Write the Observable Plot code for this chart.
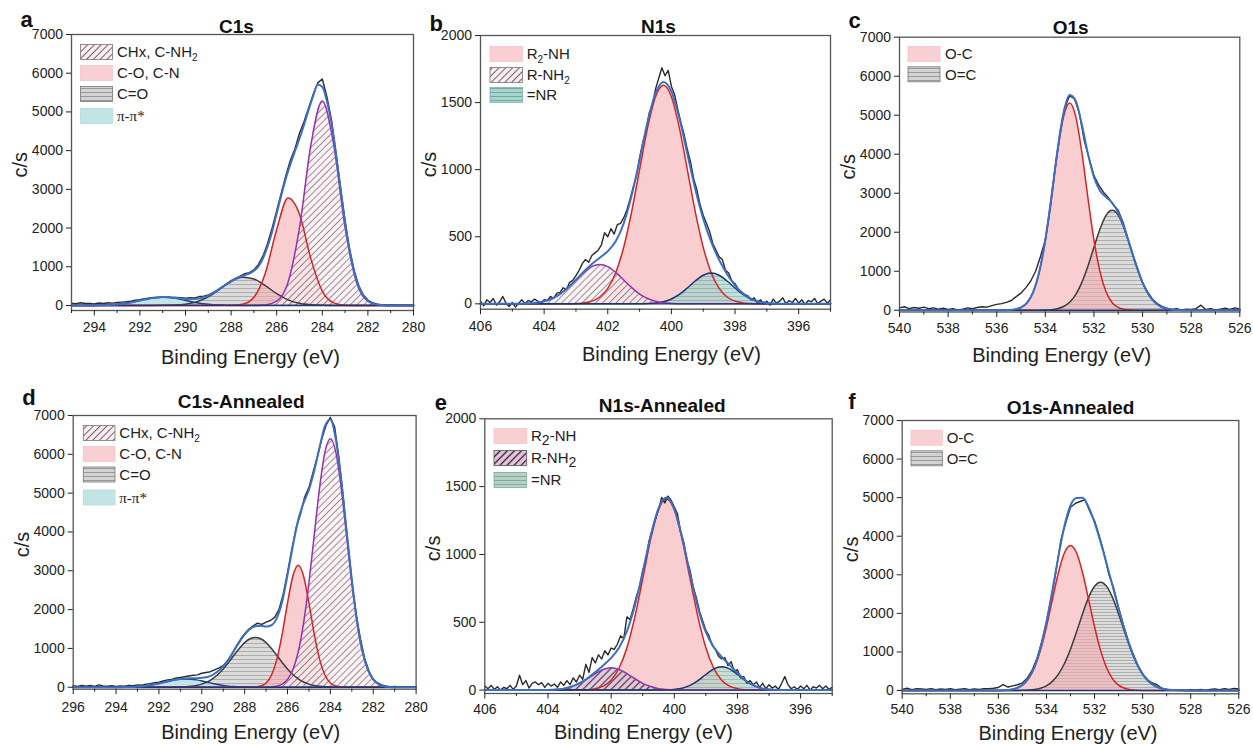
<!DOCTYPE html>
<html><head><meta charset="utf-8">
<script src="https://cdn.jsdelivr.net/npm/d3@7"></script>
<script src="https://cdn.jsdelivr.net/npm/@observablehq/plot@0.6"></script>
<style>
html,body{margin:0;padding:0;background:#fff;}
#wrap{position:relative;width:1253px;height:745px;overflow:hidden;font-family:"Liberation Sans",Arial,sans-serif;}
#wrap svg{position:absolute;overflow:visible;background:transparent !important;max-width:none !important;}
</style></head><body>
<svg width="0" height="0" style="position:absolute;left:0;top:0"><defs>
<pattern id="diagL" width="4.8" height="4.8" patternUnits="userSpaceOnUse" patternTransform="rotate(45)">
<rect width="4.8" height="4.8" fill="#fcecf1"/><line x1="2.4" y1="0" x2="2.4" y2="4.8" stroke="#5a5a5a" stroke-width="0.9"/></pattern>
<pattern id="diagD" width="5" height="5" patternUnits="userSpaceOnUse" patternTransform="rotate(45)">
<rect width="5" height="5" fill="#e8c5e2"/><line x1="2.5" y1="0" x2="2.5" y2="5" stroke="#222" stroke-width="1.3"/></pattern>
<pattern id="horizG" width="6" height="4" patternUnits="userSpaceOnUse">
<rect width="6" height="4" fill="#d3d3d3"/><line x1="0" y1="0.5" x2="6" y2="0.5" stroke="#8a8a8a" stroke-width="0.8"/></pattern>
<pattern id="horizGf" width="6" height="3" patternUnits="userSpaceOnUse">
<rect width="6" height="3" fill="#d3d3d3"/><line x1="0" y1="0.5" x2="6" y2="0.5" stroke="#8a8a8a" stroke-width="0.8"/></pattern>
<pattern id="horizT" width="6" height="4" patternUnits="userSpaceOnUse">
<rect width="6" height="4" fill="#a6d5cf"/><line x1="0" y1="0.5" x2="6" y2="0.5" stroke="#6c9c96" stroke-width="0.8"/></pattern>
<pattern id="horizS" width="6" height="4" patternUnits="userSpaceOnUse">
<rect width="6" height="4" fill="#b5d2c6"/><line x1="0" y1="0.5" x2="6" y2="0.5" stroke="#7c9c90" stroke-width="0.8"/></pattern>
</defs></svg>
<div id="wrap"></div>
<script>
// ---------- grids (energy sampling, eV) ----------
const grid = (start, step, n) => Array.from({length: n}, (_, i) => Math.round((start - i * step) * 100) / 100);

// ---------- Panel a: C1s ----------
const aTitle = "C1s";
const aLegend = ["CHx, C-NH_2", "C-O, C-N", "C=O", "π-π*"];
const aXMajor = [294, 292, 290, 288, 286, 284, 282, 280];
const aXMinor = [295, 293, 291, 289, 287, 285, 283, 281];
const aYTicks = [0, 1000, 2000, 3000, 4000, 5000, 6000, 7000];
const aFineE = grid(295, 0.2, 76);
const aCompE = grid(295, 0.5, 31);
const aRaw = [60,45,70,50,55,40,65,50,70,60, 75,85,95,110,135,150,175,190,210,205, 225,220,210,205,200,190,200,195,230,240, 270,330,400,480,560,640,700,760,820,850, 920,1060,1280,1600,2000,2450,2900,3350,3750,4050, 4450,4750,5100,5450,5750,5850,5400,4800,3950,3050, 2180,1450,900,510,270,140,70,35,20,15, 10,5,0,10,0,5];
const aEnv = [0,0,0,1,1,2,4,7,11,18, 27,40,57,77,101,126,152,176,196,209, 217,216,208,195,180,167,160,165,181,211, 255,318,391,469,548,624,687,738,782,826, 896,1011,1220,1525,1907,2379,2842,3279,3649,3985, 4314,4668,5056,5415,5710,5649,5280,4723,3905,2995, 2131,1413,866,491,256,124,56,23,9,3, 1,0,0,0,0,0];
const aCHx = [0,0,0,0,0,0,0,0,0,0, 0,0,0,0,0,0,0,13,111,602, 2010,4150,5280,4150,2010,602,111,13,0,0, 0];
const aCO  = [0,0,0,0,0,0,0,0,0,0, 0,0,0,0,3,32,213,834,1963,2777, 2358,1204,370,67,8,0,0,0,0,0, 0];
const aCdO = [0,0,0,0,0,0,0,0,3,9, 33,97,226,419,619,728,683,511,305,145, 55,17,4,1,0,0,0,0,0,0, 0];
const aPi  = [0,0,2,9,29,70,130,190,215,190, 130,70,29,9,2,0,0,0,0,0, 0,0,0,0,0,0,0,0,0,0, 0];

// ---------- Panel b: N1s ----------
const bTitle = "N1s";
const bLegend = ["R_2-NH", "R-NH_2", "=NR"];
const bXMajor = [406, 404, 402, 400, 398, 396];
const bXMinor = [405, 403, 401, 399, 397, 395];
const bYTicks = [0, 500, 1000, 1500, 2000];
const bFineE = grid(406, 0.1, 111);
const bCompE = grid(406, 0.25, 45);
const bRaw = [20,-15,30,10,40,-10,15,55,5,-20, 10,-25,5,30,0,25,15,35,20,5, 30,25,55,40,80,85,120,105,160,175, 210,250,300,330,310,360,380,400,440,530, 500,560,520,590,600,640,700,780,870,950, 1090,1200,1290,1420,1480,1600,1680,1760,1700,1740, 1620,1560,1450,1350,1260,1150,1060,930,850,740, 660,600,540,450,400,350,330,250,230,170, 150,110,90,70,60,30,45,10,30,0, 20,-10,35,5,20,45,0,25,10,40, 5,30,-5,25,15,40,0,20,35,5,30];
const bEnv = [0,0,0,0,0,1,3,8,19,40, 73,121,180,241,297,344,392,466,599,807, 1074,1354,1569,1654,1583,1383,1119,856,634,461, 328,221,138,77,38,16,6,2,0,0, 0,0,0,0,0];
const bR2NH = [0,0,0,0,0,0,0,0,0,0, 0,0,2,7,20,51,115,232,421,686, 1001,1312,1544,1630,1544,1312,1001,686,421,232, 115,51,20,7,2,0,0,0,0,0, 0,0,0,0,0];
const bRNH2 = [0,0,0,0,0,1,3,8,19,40, 73,121,178,234,277,293,277,234,178,121, 73,40,19,8,3,1,0,0,0,0, 0,0,0,0,0,0,0,0,0,0, 0,0,0,0,0];
const bNR   = [0,0,0,0,0,0,0,0,0,0, 0,0,0,0,0,0,0,0,0,0, 0,2,6,16,36,70,118,170,213,229, 213,170,118,70,36,16,6,2,0,0, 0,0,0,0,0];

// ---------- Panel c: O1s ----------
const cTitle = "O1s";
const cLegend = ["O-C", "O=C"];
const cXMajor = [540, 538, 536, 534, 532, 530, 528, 526];
const cXMinor = [539, 537, 535, 533, 531, 529, 527];
const cYTicks = [0, 1000, 2000, 3000, 4000, 5000, 6000, 7000];
const cFineE = grid(540, 0.2, 71);
const cCompE = grid(540, 0.25, 57);
const cRaw = [60,90,40,70,50,80,40,60,30,50, 20,40,10,30,60,40,70,90,80,120, 150,170,200,250,350,440,580,750,1000,1380, 1800,2600,3650,4550,5200,5500,5420,5050,4350,3900, 3450,3200,3020,2880,2700,2560,2250,1830,1420,1060, 700,480,290,170,100,50,20,40,10,30, 20,40,130,20,40,10,30,50,20,60,30];
const cEnv = [0,0,0,0,0,0,0,0,0,0, 0,0,0,0,0,0,0,1,6,22, 71,193,466,983,1805,2904,4092,5061,5516,5368, 4761,4015,3414,3066,2899,2754,2504,2106,1620,1127, 709,403,206,96,40,15,5,1,0,0, 0,0,0,0,0,0,0];
const cOC  = [0,0,0,0,0,0,0,0,0,0, 0,0,0,0,0,0,0,1,6,22, 71,193,466,982,1800,2889,4052,4965,5310,4965, 4052,2889,1800,982,466,193,71,22,6,1, 0,0,0,0,0,0,0,0,0,0, 0,0,0,0,0,0,0];
const cOdC = [0,0,0,0,0,0,0,0,0,0, 0,0,0,0,0,0,0,0,0,0, 0,0,0,1,5,15,40,96,206,403, 709,1126,1614,2084,2433,2561,2433,2084,1614,1126, 709,403,206,96,40,15,5,1,0,0, 0,0,0,0,0,0,0];

// ---------- Panel d: C1s-Annealed ----------
const dTitle = "C1s-Annealed";
const dLegend = ["CHx, C-NH_2", "C-O, C-N", "C=O", "π-π*"];
const dXMajor = [296, 294, 292, 290, 288, 286, 284, 282, 280];
const dXMinor = [295, 293, 291, 289, 287, 285, 283, 281];
const dYTicks = [0, 1000, 2000, 3000, 4000, 5000, 6000, 7000];
const dFineE = grid(296, 0.2, 81);
const dCompE = grid(296, 0.25, 65);
const dRaw = [40,20,50,30,45,20,60,35,25,40, 20,35,30,45,40,60,55,80,90,120, 130,160,190,200,240,250,270,290,310,320, 360,380,400,450,500,560,680,840,1050,1230, 1380,1500,1580,1650,1620,1680,1720,1800,2000,2400, 2950,3550,4100,4450,4900,5150,5550,5950,6400,6750, 6950,6700,5900,4900,3800,2750,1900,1250,740,420, 200,110,60,30,10,20,5,15,0,10, 5];
const dEnv = [0,0,0,0,0,0,0,0,0,2, 5,9,17,29,47,70,98,130,162,192, 214,227,231,234,242,265,315,410,540,720, 940,1158,1354,1503,1572,1582,1562,1597,1782,2203, 2890,3643,4316,4747,5092,5586,6186,6732,6897,6396, 5360,4052,2764,1681,919,453,201,80,28,9, 2,0,0,0,0];
const dCHx = [0,0,0,0,0,0,0,0,0,0, 0,0,0,0,0,0,0,0,0,0, 0,0,0,0,0,0,0,0,0,0, 0,0,0,0,0,0,2,9,28,80, 201,453,909,1651,2694,3930,5152,6061,6400,6061, 5152,3930,2694,1651,909,453,201,80,28,9, 2,0,0,0,0];
const dCO  = [0,0,0,0,0,0,0,0,0,0, 0,0,0,0,0,0,0,0,0,0, 0,0,0,0,0,0,0,0,0,0, 0,0,0,2,8,33,111,309,711,1362, 2168,2861,3140,2861,2168,1362,711,309,111,33, 8,2,0,0,0,0,0,0,0,0, 0,0,0,0,0];
const dCdO = [0,0,0,0,0,0,0,0,0,0, 0,0,0,0,0,0,0,0,0,2, 6,12,23,44,80,135,217,329,471,641, 823,999,1149,1249,1284,1249,1149,999,823,641, 471,329,217,135,80,44,23,12,6,2, 0,0,0,0,0,0,0,0,0,0, 0,0,0,0,0];
const dPi  = [0,0,0,0,0,0,0,0,0,2, 5,9,17,29,47,70,98,130,162,190, 208,215,208,190,162,130,98,70,47,29, 17,9,5,2,0,0,0,0,0,0, 0,0,0,0,0,0,0,0,0,0, 0,0,0,0,0,0,0,0,0,0, 0,0,0,0,0];

// ---------- Panel e: N1s-Annealed ----------
const eTitle = "N1s-Annealed";
const eLegend = ["R_2-NH", "R-NH_2", "=NR"];
const eXMajor = [406, 404, 402, 400, 398, 396];
const eXMinor = [405, 403, 401, 399, 397, 395];
const eYTicks = [0, 500, 1000, 1500, 2000];
const eFineE = grid(406, 0.1, 111);
const eCompE = grid(406, 0.25, 45);
const eRaw = [30,10,35,5,25,0,20,10,35,5, 30,110,40,70,15,50,60,40,55,20, 50,30,45,20,60,35,70,40,90,60, 110,80,190,130,240,200,260,230,290,260, 310,300,340,400,380,540,520,600,690,760, 880,960,1100,1180,1260,1330,1420,1380,1430,1400, 1350,1300,1170,1090,960,880,760,680,580,510, 440,400,330,300,250,230,240,180,210,140, 150,90,100,50,70,40,60,20,50,10, 40,15,30,5,50,100,40,10,25,5, 30,10,35,0,25,15,35,10,30,5,20];
const eEnv = [0,0,0,0,0,0,0,0,1,4, 11,26,51,87,133,182,237,313,434,622, 870,1135,1340,1419,1335,1123,855,608,427,317, 245,186,126,73,36,14,5,1,0,0, 0,0,0,0,0];
const eR2NH = [0,0,0,0,0,0,0,0,0,0, 0,0,1,3,11,30,73,161,312,538, 820,1109,1329,1411,1329,1109,820,538,312,161, 73,30,11,3,1,0,0,0,0,0, 0,0,0,0,0];
const eRNH2 = [0,0,0,0,0,0,0,0,1,4, 11,26,50,84,122,152,164,152,122,84, 50,26,11,4,1,0,0,0,0,0, 0,0,0,0,0,0,0,0,0,0, 0,0,0,0,0];
const eNR   = [0,0,0,0,0,0,0,0,0,0, 0,0,0,0,0,0,0,0,0,0, 0,0,0,1,5,14,35,70,115,156, 172,156,115,70,35,14,5,1,0,0, 0,0,0,0,0];

// ---------- Panel f: O1s-Annealed ----------
const fTitle = "O1s-Annealed";
const fLegend = ["O-C", "O=C"];
const fXMajor = [540, 538, 536, 534, 532, 530, 528, 526];
const fXMinor = [539, 537, 535, 533, 531, 529, 527];
const fYTicks = [0, 1000, 2000, 3000, 4000, 5000, 6000, 7000];
const fFineE = grid(540, 0.2, 71);
const fCompE = grid(540, 0.25, 57);
const fRaw = [30,60,20,50,40,30,50,20,40,30, 45,20,35,50,20,40,30,45,50,60, 80,150,90,120,150,200,320,520,820,1250, 1780,2400,3100,3900,4350,4750,4850,4900,4950,4650, 4400,4000,3550,3000,2650,2150,1700,1290,950,660, 430,280,200,150,60,30,20,5,15,0, 20,10,25,5,30,40,20,45,30,55,40];
const fEnv = [0,0,0,0,0,0,0,0,0,0, 0,0,0,0,0,0,2,8,22,60, 145,314,616,1100,1777,2607,3485,4272,4800,4990, 5000,4760,4356,3850,3292,2710,2127,1574,1093,708, 426,238,123,59,26,11,4,1,0,0, 0,0,0,0,0,0,0];
const fOC  = [0,0,0,0,0,0,0,0,0,0, 0,0,0,0,0,0,2,8,22,59, 141,303,590,1041,1654,2369,3061,3572,3760,3572, 3061,2369,1654,1041,590,303,141,59,22,8, 2,0,0,0,0,0,0,0,0,0, 0,0,0,0,0,0,0];
const fOdC = [0,0,0,0,0,0,0,0,0,0, 0,0,0,0,0,0,0,0,0,1, 4,11,26,59,123,238,424,700,1071,1515, 1986,2407,2702,2809,2702,2407,1986,1515,1071,700, 424,238,123,59,26,11,4,1,0,0, 0,0,0,0,0,0,0];

// ---------- styles ----------
const ST = {
  diag:  {fill: "url(#diagL)",  fo: 0.72, stroke: "#9b2fae"},
  diagD: {fill: "url(#diagD)",  fo: 0.85, stroke: "#8e3aa8"},
  pink:  {fill: "#f3aeb3",      fo: 0.6,  stroke: "#d42424"},
  gray:  {fill: "url(#horizG)", fo: 0.8,  stroke: "#3d3d3d"},
  grayF: {fill: "url(#horizGf)",fo: 0.8,  stroke: "#3d3d3d"},
  teal:  {fill: "#b9e0e0",      fo: 0.85, stroke: "#1f3f7a"},
  nrB:   {fill: "url(#horizT)", fo: 0.72, stroke: "#1f3470"},
  nrE:   {fill: "url(#horizS)", fo: 0.75, stroke: "#1f3470"}
};
const rows = (E, v) => E.map((e, i) => ({E: e, v: v[i]}));
const wrap = document.getElementById("wrap");

function panel(p) {
  const {cell, frame} = p;
  const marks = [];
  for (const c of p.comps) marks.push(Plot.areaY(rows(c.E, c.v), {x: "E", y: "v", fill: c.fill, fillOpacity: c.fo, curve: "monotone-x"}));
  for (const c of p.comps) marks.push(Plot.lineY(rows(c.E, c.v), {x: "E", y: "v", stroke: c.stroke, strokeWidth: 1.5, curve: "monotone-x"}));
  marks.push(Plot.ruleY([0], {stroke: "#1d3570", strokeWidth: 1.3}));
  marks.push(Plot.lineY(rows(p.rawE, p.raw), {x: "E", y: "v", stroke: "#2b2b2b", strokeWidth: 1.4}));
  marks.push(Plot.lineY(rows(p.envE, p.env), {x: "E", y: "v", stroke: "#3b6fc6", strokeWidth: 2, curve: "monotone-x"}));
  marks.push(Plot.frame({stroke: "#555", strokeWidth: 1.3}));
  marks.push(Plot.axisX({ticks: p.xMajor, tickSize: 5.5, tickPadding: p.xpad, tickFormat: "d", label: null, fontSize: 14}));
  marks.push(Plot.axisX({ticks: p.xMinor, tickSize: 3, fill: "none", label: null}));
  marks.push(Plot.axisY({ticks: p.yTicks, tickSize: 5, tickPadding: 3.5, tickFormat: "d", label: null, fontSize: 14}));
  marks.push(Plot.text([p.title], {text: d => d, frameAnchor: "top", dx: p.tdx, dy: p.tdy, fontSize: 19, fontWeight: "bold", lineAnchor: "middle", fill: "#111"}));
  marks.push(Plot.text([p.letter], {text: d => d, frameAnchor: "top-left", dx: p.ldx, dy: p.ldy, fontSize: 22, fontWeight: "bold", lineAnchor: "middle", fill: "#111"}));
  marks.push(Plot.text(["c/s"], {text: d => d, frameAnchor: "left", dx: -51, dy: 5, rotate: -90, fontSize: 20, lineAnchor: "middle", fill: "#222"}));
  marks.push(Plot.text(["Binding Energy (eV)"], {text: d => d, frameAnchor: "bottom", dx: p.xlx, dy: p.xly, fontSize: 20, lineAnchor: "middle", fill: "#222"}));
  const svg = Plot.plot({
    width: cell.w, height: cell.h,
    marginLeft: frame.x1 - cell.x, marginRight: cell.x + cell.w - frame.x2,
    marginTop: frame.y1 - cell.y, marginBottom: cell.y + cell.h - frame.y2,
    x: {domain: p.xDomain}, y: {domain: p.yDomain},
    style: {fontFamily: "Liberation Sans, Arial, sans-serif", color: "#222", background: "transparent", overflow: "visible"},
    marks
  });
  svg.style.left = cell.x + "px";
  svg.style.top = cell.y + "px";
  wrap.appendChild(svg);
}

panel({cell: {x: 0, y: 0, w: 420, h: 370}, frame: {x1: 71, x2: 413, y1: 34, y2: 310},
  xDomain: [295, 280], yDomain: [-130, 7000], xMajor: aXMajor, xMinor: aXMinor, yTicks: aYTicks, xpad: 6,
  comps: [{E: aCompE, v: aCdO, ...ST.gray}, {E: aCompE, v: aPi, ...ST.teal}, {E: aCompE, v: aCO, ...ST.pink}, {E: aCompE, v: aCHx, ...ST.diag}],
  envE: aFineE, env: aEnv, rawE: aFineE, raw: aRaw,
  title: aTitle, letter: "a", tdx: -6, tdy: -8, ldx: -51, ldy: -15, xlx: 8, xly: 47});

panel({cell: {x: 420, y: 0, w: 415, h: 370}, frame: {x1: 480, x2: 830, y1: 35, y2: 308.7},
  xDomain: [406, 395], yDomain: [-40, 2000], xMajor: bXMajor, xMinor: bXMinor, yTicks: bYTicks, xpad: 6,
  comps: [{E: bCompE, v: bR2NH, ...ST.pink}, {E: bCompE, v: bNR, ...ST.nrB}, {E: bCompE, v: bRNH2, ...ST.diag}],
  envE: bCompE, env: bEnv, rawE: bFineE, raw: bRaw,
  title: bTitle, letter: "b", tdx: 3, tdy: -8.8, ldx: -51, ldy: -12, xlx: 16, xly: 45});

panel({cell: {x: 835, y: 0, w: 418, h: 370}, frame: {x1: 899, x2: 1239.3, y1: 36.7, y2: 311.5},
  xDomain: [540, 526], yDomain: [-45, 7000], xMajor: cXMajor, xMinor: cXMinor, yTicks: cYTicks, xpad: 6,
  comps: [{E: cCompE, v: cOdC, ...ST.gray}, {E: cCompE, v: cOC, ...ST.pink}],
  envE: cCompE, env: cEnv, rawE: cFineE, raw: cRaw,
  title: cTitle, letter: "c", tdx: 1, tdy: -9.2, ldx: -51, ldy: -16, xlx: -8, xly: 43.5});

panel({cell: {x: 0, y: 375, w: 420, h: 370}, frame: {x1: 72.7, x2: 415.6, y1: 415, y2: 688.7},
  xDomain: [296, 280], yDomain: [-50, 7000], xMajor: dXMajor, xMinor: dXMinor, yTicks: dYTicks, xpad: 7,
  comps: [{E: dCompE, v: dCdO, ...ST.gray}, {E: dCompE, v: dPi, ...ST.teal}, {E: dCompE, v: dCO, ...ST.pink}, {E: dCompE, v: dCHx, ...ST.diag}],
  envE: dCompE, env: dEnv, rawE: dFineE, raw: dRaw,
  title: dTitle, letter: "d", tdx: -3.5, tdy: -13.3, ldx: -51, ldy: -17.5, xlx: 6, xly: 43});

panel({cell: {x: 420, y: 375, w: 415, h: 370}, frame: {x1: 484.3, x2: 831.7, y1: 418.3, y2: 693},
  xDomain: [406, 395], yDomain: [-25, 2000], xMajor: eXMajor, xMinor: eXMinor, yTicks: eYTicks, xpad: 5,
  comps: [{E: eCompE, v: eR2NH, ...ST.pink}, {E: eCompE, v: eNR, ...ST.nrE}, {E: eCompE, v: eRNH2, ...ST.diagD}],
  envE: eCompE, env: eEnv, rawE: eFineE, raw: eRaw,
  title: eTitle, letter: "e", tdx: 3.7, tdy: -13.3, ldx: -50, ldy: -16, xlx: -15, xly: 39});

panel({cell: {x: 835, y: 375, w: 418, h: 370}, frame: {x1: 901.7, x2: 1238.3, y1: 420, y2: 693.3},
  xDomain: [540, 526], yDomain: [-85, 7000], xMajor: fXMajor, xMinor: fXMinor, yTicks: fYTicks, xpad: 5,
  comps: [{E: fCompE, v: fOdC, ...ST.grayF}, {E: fCompE, v: fOC, ...ST.pink}],
  envE: fCompE, env: fEnv, rawE: fFineE, raw: fRaw,
  title: fTitle, letter: "f", tdx: 0, tdy: -13, ldx: -54, ldy: -19, xlx: -2.5, xly: 40});

// ---------- legends (overlay) ----------
const ov = d3.select(wrap).append("svg").attr("width", 1253).attr("height", 745).style("left", "0px").style("top", "0px");
function legend(spec) {
  spec.labels.forEach((lab, i) => {
    const y = spec.ys[i];
    ov.append("rect").attr("x", spec.x).attr("y", y - 7.5).attr("width", spec.w).attr("height", 15)
      .attr("fill", spec.fills[i][0]).attr("stroke", spec.fills[i][1]).attr("stroke-width", 0.8);
    const serif = lab.startsWith("π");
    const t = ov.append("text").attr("x", spec.tx).attr("y", y).attr("dy", "0.36em")
      .attr("font-size", 15).attr("fill", "#222")
      .attr("font-family", serif ? "Liberation Serif, serif" : "Liberation Sans, Arial, sans-serif");
    const parts = lab.split("_");
    t.append("tspan").text(parts[0]);
    for (let k = 1; k < parts.length; k++) {
      t.append("tspan").attr("font-size", spec.sub[0]).attr("dy", spec.sub[1]).text(parts[k][0]);
      const rest = parts[k].slice(1);
      if (rest) t.append("tspan").attr("dy", -spec.sub[1]).text(rest);
    }
  });
}
const SW = {
  diag: ["url(#diagL)", "#777"], pink: ["#f8d0d3", "#f4c3c7"], gray: ["url(#horizG)", "#777"],
  teal: ["#c3e4e4", "#b3dada"], nrB: ["url(#horizT)", "#7fb0aa"], diagD: ["url(#diagD)", "#555"],
  nrE: ["url(#horizS)", "#8aa99d"]
};
legend({x: 80.5, w: 32, tx: 117, ys: [52, 73, 94, 116], labels: aLegend, fills: [SW.diag, SW.pink, SW.gray, SW.teal], sub: [10, 4]});
legend({x: 490, w: 32.5, tx: 526.7, ys: [54, 75, 95], labels: bLegend, fills: [SW.pink, SW.diag, SW.nrB], sub: [10, 4]});
legend({x: 908, w: 32, tx: 945, ys: [54, 74.3], labels: cLegend, fills: [SW.pink, SW.gray], sub: [10, 4]});
legend({x: 83.3, w: 31.7, tx: 119.3, ys: [433, 454, 474.5, 497.5], labels: dLegend, fills: [SW.diag, SW.pink, SW.gray, SW.teal], sub: [10, 4]});
legend({x: 494, w: 32.7, tx: 531, ys: [436, 458, 480], labels: eLegend, fills: [SW.pink, SW.diagD, SW.nrE], sub: [14, 4]});
legend({x: 911, w: 31.3, tx: 946.7, ys: [437.7, 458.3], labels: fLegend, fills: [SW.pink, SW.gray], sub: [10, 4]});
</script>
</body></html>
